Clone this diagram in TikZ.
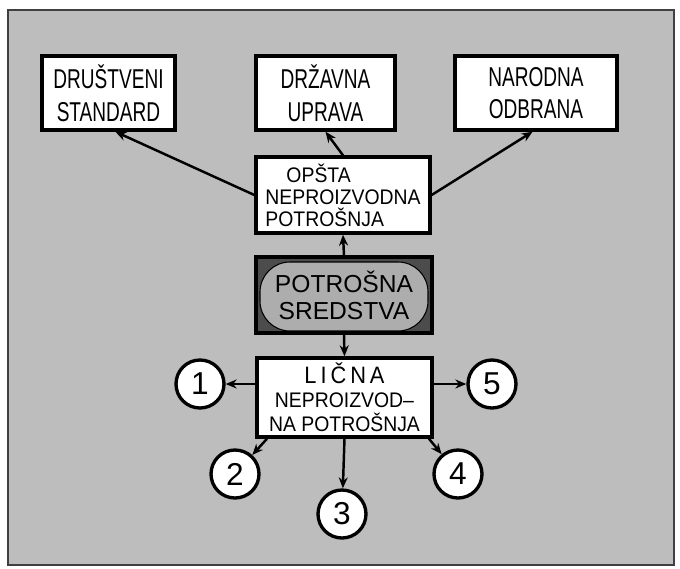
\documentclass[tikz,border=0pt]{standalone}
\usepackage{fontspec}
\setmainfont{Liberation Sans}
\newfontfamily\narrowfont[FakeStretch=0.7]{Liberation Sans}
\newfontfamily\midfont[FakeStretch=0.92]{Liberation Sans}
\usepackage{tikz}
\usetikzlibrary{positioning,arrows.meta}
\tikzstyle{arrow} = [line width=1.4pt,-{Stealth[length=2.2mm,width=1.8mm]}]
\tikzstyle{topbox} = [draw,fill=white,line width=1.9pt,inner sep=0pt,minimum height=14.8mm,align=center,font=\narrowfont\fontsize{15.5}{18.5}\selectfont]
\tikzstyle{midbox} = [draw,fill=white,line width=1.9pt,inner sep=0pt,minimum height=15.2mm,font=\midfont\fontsize{12}{12.5}\selectfont]
\tikzstyle{num} = [circle,draw,fill=white,line width=1.9pt,inner sep=0pt,minimum size=9.6mm,font=\fontsize{18}{18}\selectfont]

\begin{document}
\begin{tikzpicture}[x=0.2mm,y=-0.2mm]
			\useasboundingbox (0,0) rectangle (680,569);
			\draw[fill=black!26,draw=black!75,line width=1.5pt] (8,10) rectangle (674,565);
			% gornji red
			\node [topbox,minimum width=26.6mm] (drustveni) at (108.5,93) {DRUŠTVENI\\STANDARD};
			\node [topbox,minimum width=27.8mm] (drzavna) at (325.5,93) {DRŽAVNA\\UPRAVA};
			\node [topbox,minimum width=32.4mm] (narodna) at (536,93) {NARODNA\\ODBRANA};
			\node [midbox,minimum width=34.8mm,align=left] (opsta) at (343,195) {\hspace{1em}OPŠTA\\NEPROIZVODNA\\POTROŠNJA};
			\node [draw,line width=1.9pt,fill=black!70,inner sep=0pt,minimum width=35.2mm,minimum height=15.2mm,align=center,
				font=\fontsize{14}{15.5}\selectfont,
				path picture={\draw[fill=black!32,line width=0.6pt,rounded corners=6mm]
					([shift={(0.8mm,-1mm)}]path picture bounding box.north west) rectangle
					([shift={(-0.8mm,0.4mm)}]path picture bounding box.south east);}] (sredstva) at (344,295) {POTROŠNA\\SREDSTVA};
			\node [midbox,minimum width=35mm,minimum height=15.8mm,align=center,font=\midfont\fontsize{12}{13.6}\selectfont] (licna) at (344.5,397.5)
				{{\fontsize{13.5}{13.6}\selectfont L\,I\,Č\,N\,A}\\NEPROIZVOD–\\NA POTROŠNJA};
			\node [num] (c1) at (200,384) {1};
			\node [num] (c2) at (235,474) {2};
			\node [num] (c3) at (342,514) {3};
			\node [num] (c4) at (458,474) {4};
			\node [num] (c5) at (492,384) {5};
			\draw[arrow] (opsta.west) -- (drustveni.-80);
			\draw[arrow] (opsta.north) -- (drzavna.south);
			\draw[arrow] (opsta.east) -- (narodna.-95);
			\draw[arrow] (sredstva.north) -- (opsta.south);
			\draw[arrow] (sredstva.south) -- (licna.north);
			\draw[arrow] (licna.west |- c1) -- (c1);
			\draw[arrow] (licna.east |- c5) -- (c5);
			\draw[arrow] (licna.-152) -- (c2);
			\draw[arrow] (licna.south) -- (c3);
			\draw[arrow] (licna.-26) -- (c4);
		\end{tikzpicture}
\end{document}
